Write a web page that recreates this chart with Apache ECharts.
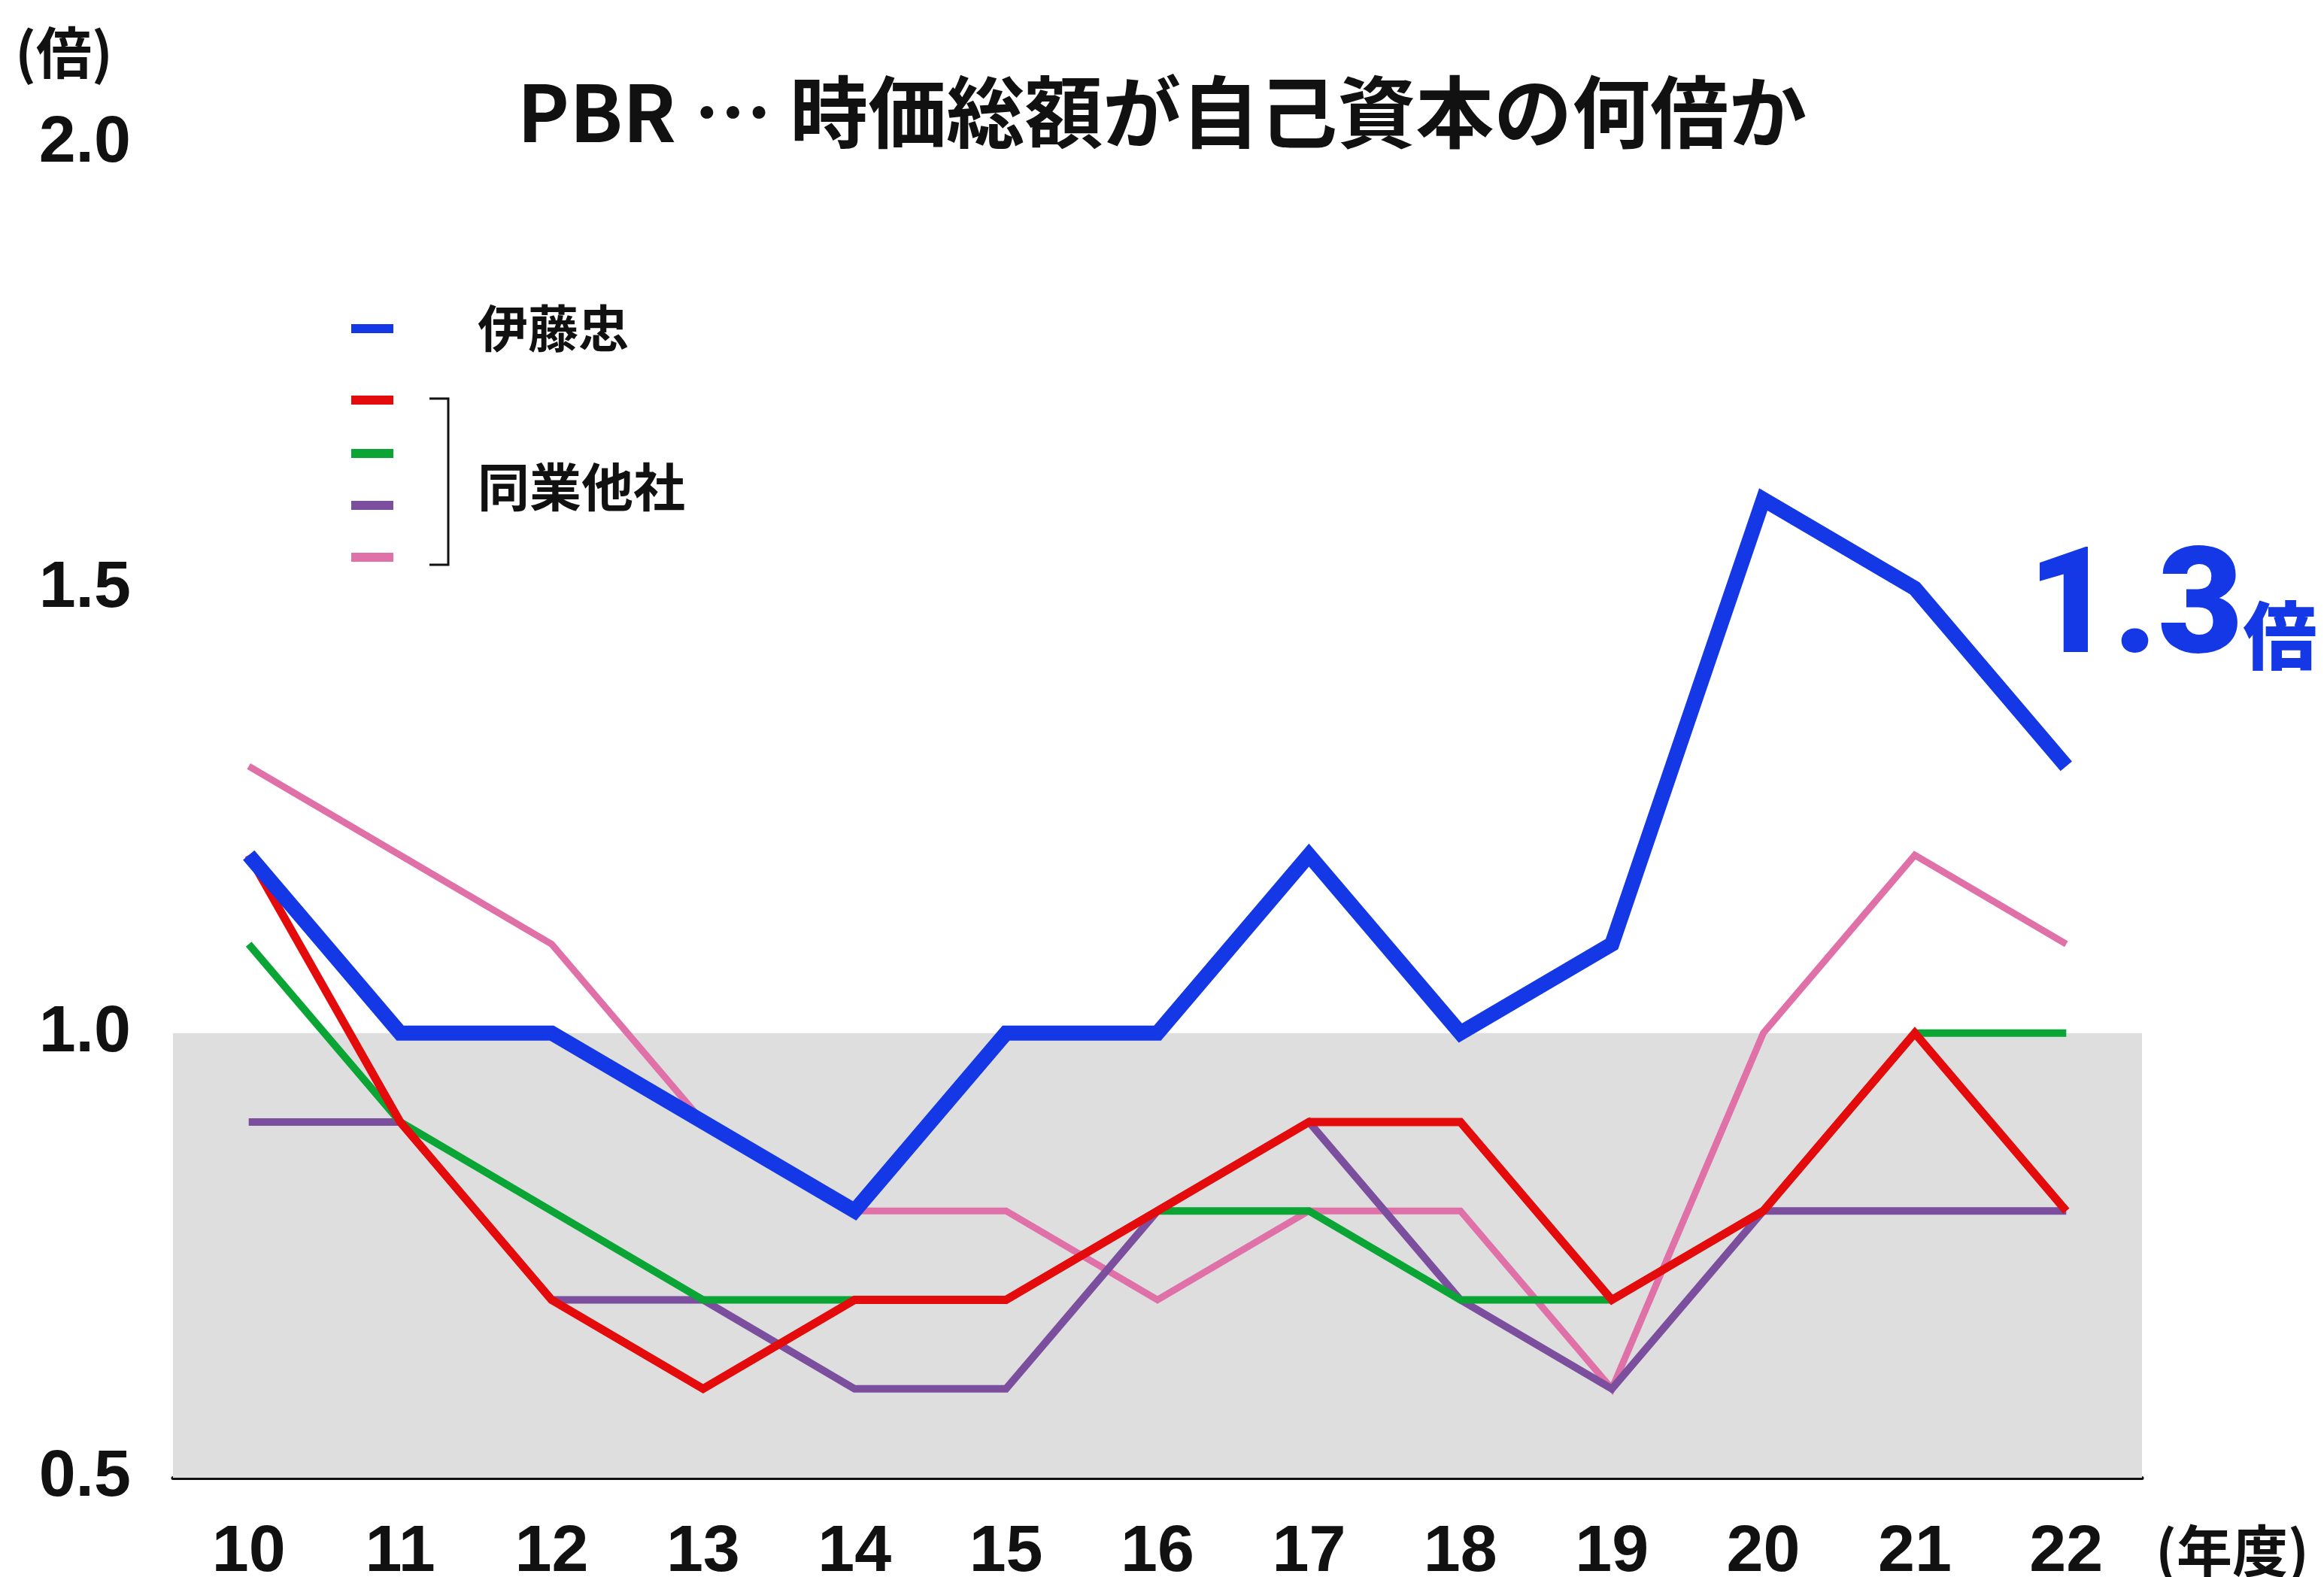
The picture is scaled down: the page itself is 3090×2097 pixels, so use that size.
<!DOCTYPE html>
<html>
<head>
<meta charset="utf-8">
<script src="https://cdn.jsdelivr.net/npm/echarts@6/dist/echarts.min.js"></script>
<style>
  html, body { margin: 0; padding: 0; background: #fff; }
  #main { width: 3090px; height: 2097px; }
</style>
</head>
<body>
<div id="main"></div>
<script>
// fiscal years
var years = ['10', '11', '12', '13', '14', '15', '16', '17', '18', '19', '20', '21', '22'];
var yTicks = [0.5, 1.0, 1.5, 2.0];

// PBR values
var itochu = [1.2, 1.0, 1.0, 0.9, 0.8, 1.0, 1.0, 1.2, 1.0, 1.1, 1.6, 1.5, 1.3];
var peerRed = [1.2, 0.9, 0.7, 0.6, 0.7, 0.7, 0.8, 0.9, 0.9, 0.7, 0.8, 1.0, 0.8];
var peerGreen = [1.1, 0.9, 0.8, 0.7, 0.7, 0.7, 0.8, 0.8, 0.7, 0.7, 0.8, 1.0, 1.0];
var peerPurple = [0.9, 0.9, 0.7, 0.7, 0.6, 0.6, 0.8, 0.9, 0.7, 0.6, 0.8, 0.8, 0.8];
var peerPink = [1.3, 1.2, 1.1, 0.9, 0.8, 0.8, 0.7, 0.8, 0.8, 0.6, 1.0, 1.2, 1.1];

var BLUE = '#1438e6';
var RED = '#e30b0b';
var GREEN = '#0ba535';
var PURPLE = '#7b4f9e';
var PINK = '#e070a8';

var NUM_FONT = '"Liberation Sans", "Noto Sans CJK JP", sans-serif';
var JP_FONT = '"Noto Sans CJK JP", sans-serif';

var myChart = echarts.init(document.getElementById('main'));

function lineSeries(name, data, color, width, z) {
    return {
        name: name,
        type: 'line',
        data: data,
        symbol: 'none',
        z: z,
        lineStyle: { color: color, width: width, cap: 'butt', join: 'miter' },
        itemStyle: { color: color }
    };
}

var series = [
    lineSeries('pink', peerPink, PINK, 9, 2),
    lineSeries('purple', peerPurple, PURPLE, 10, 3),
    lineSeries('green', peerGreen, GREEN, 10, 4),
    lineSeries('red', peerRed, RED, 11, 5),
    lineSeries('伊藤忠', itochu, BLUE, 20, 6)
];

// gray band below 1.0
series[0].markArea = {
    silent: true,
    itemStyle: { color: '#dedede' },
    data: [[{ yAxis: 0.5 }, { yAxis: 1.0 }]]
};

// legend rows
var legendRows = [
    { color: BLUE, y: 437 },
    { color: RED, y: 532 },
    { color: GREEN, y: 603 },
    { color: PURPLE, y: 672 },
    { color: PINK, y: 741 }
];
var graphics = legendRows.map(function (r) {
    return {
        type: 'rect',
        shape: { x: 467, y: r.y - 6, width: 56, height: 12 },
        style: { fill: r.color }
    };
});

graphics.push(
    {
        type: 'polyline',
        shape: { points: [[571, 530], [596, 530], [596, 751], [571, 751]] },
        style: { stroke: '#111', lineWidth: 3, fill: null }
    },
    {
        type: 'text', x: 635, y: 437,
        style: { text: '伊藤忠', font: 'bold 67px ' + JP_FONT, fill: '#111', verticalAlign: 'middle' }
    },
    {
        type: 'text', x: 635, y: 648,
        style: { text: '同業他社', font: 'bold 69px ' + JP_FONT, fill: '#111', verticalAlign: 'middle' }
    },
    {
        type: 'text', x: 20, y: 70,
        style: { text: '(倍)', font: 'bold 74px ' + JP_FONT, fill: '#111', verticalAlign: 'middle' }
    },
    {
        type: 'text', x: 2866, y: 2062,
        style: { text: '(年度)', font: 'bold 74px ' + JP_FONT, fill: '#111', verticalAlign: 'middle' }
    },
    {
        type: 'text', x: 2696, y: 818,
        style: {
            text: '{a|' + itochu[itochu.length - 1].toFixed(1) + '}{b|倍}',
            rich: {
                a: { font: '900 196px Roboto, ' + NUM_FONT, fill: BLUE, verticalAlign: 'bottom' },
                b: { font: '900 98px ' + JP_FONT, fill: BLUE, verticalAlign: 'bottom', padding: [0, 0, 22, 0] }
            },
            verticalAlign: 'middle'
        }
    }
);

var option = {
    backgroundColor: '#ffffff',
    animation: false,
    title: {
        text: 'PBR … 時価総額が自己資本の何倍か',
        left: 'center',
        top: 92,
        textStyle: { fontFamily: JP_FONT, fontWeight: 'bold', fontSize: 104, color: '#111' }
    },
    grid: { left: 230, right: 242, top: 191, bottom: 132, outerBoundsMode: 'none', containLabel: false },
    xAxis: {
        type: 'category',
        data: years,
        boundaryGap: true,
        axisLine: { show: true, lineStyle: { color: '#111', width: 5 } },
        axisTick: { show: false },
        axisLabel: { fontFamily: NUM_FONT, fontWeight: 'bold', fontSize: 88, color: '#111', margin: 56 }
    },
    yAxis: {
        type: 'value',
        min: yTicks[0],
        max: yTicks[yTicks.length - 1],
        interval: 0.5,
        axisLine: { show: false },
        axisTick: { show: false },
        splitLine: { show: false },
        axisLabel: {
            fontFamily: NUM_FONT, fontWeight: 'bold', fontSize: 88, color: '#111', margin: 56,
            formatter: function (v) { return v.toFixed(1); }
        }
    },
    graphic: graphics,
    series: series
};

myChart.setOption(option);
</script>
</body>
</html>
